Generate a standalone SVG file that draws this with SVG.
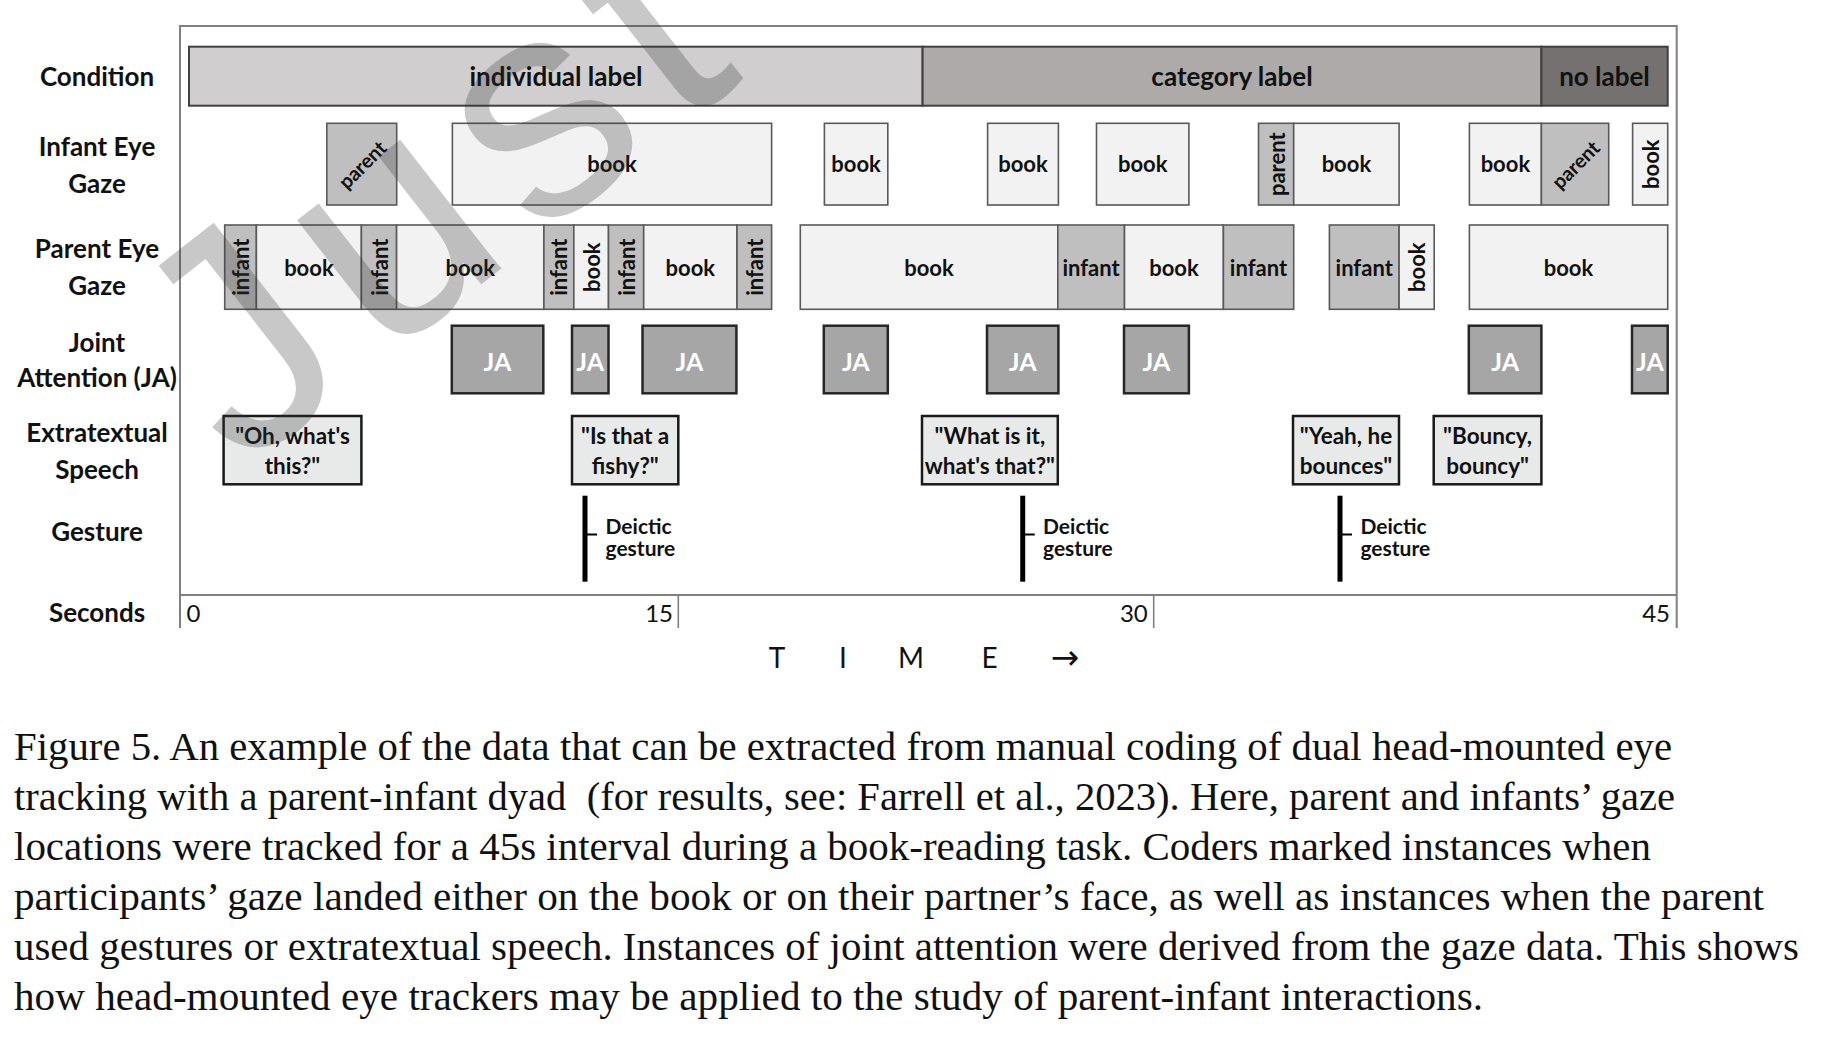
<svg xmlns="http://www.w3.org/2000/svg" width="1834" height="1042" viewBox="0 0 1834 1042">
<style>
  .lbl{font-family:Lato,"Open Sans",sans-serif;font-weight:700;font-size:26px;fill:#111;text-anchor:middle}
  .cond{font-family:Lato,"Open Sans",sans-serif;font-weight:700;font-size:26px;fill:#111;text-anchor:middle}
  .g{font-family:Lato,"Open Sans",sans-serif;font-weight:700;font-size:22px;fill:#111;text-anchor:middle}
  .gr{font-family:Lato,"Open Sans",sans-serif;font-weight:700;font-size:22px;fill:#111;text-anchor:middle;dominant-baseline:central}
  .gs{font-family:Lato,"Open Sans",sans-serif;font-weight:700;font-size:20px;fill:#111;text-anchor:middle;dominant-baseline:central}
  .ja{font-family:Lato,"Open Sans",sans-serif;font-weight:700;font-size:25px;fill:#fff;text-anchor:middle}
  .sp{font-family:Lato,"Open Sans",sans-serif;font-weight:700;font-size:22.5px;fill:#111;text-anchor:middle}
  .dg{font-family:Lato,"Open Sans",sans-serif;font-weight:700;font-size:21px;fill:#111}
  .num{font-family:Lato,"Open Sans",sans-serif;font-weight:400;font-size:24px;fill:#111}
  .time{font-family:Lato,"Open Sans",sans-serif;font-weight:400;font-size:28px;fill:#111;text-anchor:middle}
  .cap{font-family:"Liberation Serif","DejaVu Serif",serif;font-size:40px;fill:#111}
  .book{fill:#f2f2f2;stroke:#595959;stroke-width:1.6}
  .face{fill:#bfbfbf;stroke:#595959;stroke-width:1.6}
  .jab{fill:#a6a6a6;stroke:#262626;stroke-width:2.5}
  .spb{fill:#e8e9e9;stroke:#1a1a1a;stroke-width:2.5}
  .frame{fill:none;stroke:#808080;stroke-width:2}
</style>
<rect width="1834" height="1042" fill="#fff"/>

<g id="frame">
  <path class="frame" d="M180,628 V26 H1676.7 V628"/>
  <path class="frame" d="M180,595 H1676.7"/>
  <path d="M678.3,595 V628 M1153.7,595 V628" stroke="#808080" stroke-width="1.6" fill="none"/>
</g>

<g id="row-labels">
  <text class="lbl" x="97" y="86">Condition</text>
  <text class="lbl" x="97" y="155.7">Infant Eye</text>
  <text class="lbl" x="97" y="192.7">Gaze</text>
  <text class="lbl" x="97" y="258.3">Parent Eye</text>
  <text class="lbl" x="97" y="295">Gaze</text>
  <text class="lbl" x="97" y="351.7">Joint</text>
  <text class="lbl" x="97" y="387.3">Attention (JA)</text>
  <text class="lbl" x="97" y="442.3">Extratextual</text>
  <text class="lbl" x="97" y="479">Speech</text>
  <text class="lbl" x="97" y="540.7">Gesture</text>
  <text class="lbl" x="97" y="621.7">Seconds</text>
</g>

<g id="condition">
  <g id="cond-individual"><rect x="189" y="46.7" width="733.6" height="59" fill="#d0cece" stroke="#404040" stroke-width="2"/><text class="cond" x="556" y="85.7">individual label</text></g>
  <g id="cond-category"><rect x="922.6" y="46.7" width="618.8" height="59" fill="#aeaaaa" stroke="#404040" stroke-width="2"/><text class="cond" x="1232" y="85.7">category label</text></g>
  <g id="cond-none"><rect x="1541.4" y="46.7" width="126.3" height="59" fill="#767171" stroke="#404040" stroke-width="2"/><text class="cond" x="1604.5" y="85.7">no label</text></g>
</g>

<g id="infant-gaze">
  <g id="ig1"><rect class="face" x="326.8" y="123.3" width="69.9" height="81.7"/><text class="gs" transform="translate(361.8,164.2) rotate(-45)">parent</text></g>
  <g id="ig2"><rect class="book" x="452.4" y="123.3" width="319.2" height="81.7"/><text class="g" x="612" y="172.3">book</text></g>
  <g id="ig3"><rect class="book" x="824.4" y="123.3" width="63.4" height="81.7"/><text class="g" x="856.1" y="172.3">book</text></g>
  <g id="ig4"><rect class="book" x="987.6" y="123.3" width="70.8" height="81.7"/><text class="g" x="1023" y="172.3">book</text></g>
  <g id="ig5"><rect class="book" x="1096.5" y="123.3" width="92.4" height="81.7"/><text class="g" x="1142.7" y="172.3">book</text></g>
  <g id="ig6"><rect class="face" x="1258.5" y="123.3" width="35.2" height="81.7"/><text class="gr" transform="translate(1276.1,164.2) rotate(-90)">parent</text></g>
  <g id="ig7"><rect class="book" x="1293.7" y="123.3" width="105.4" height="81.7"/><text class="g" x="1346.4" y="172.3">book</text></g>
  <g id="ig8"><rect class="book" x="1469.4" y="123.3" width="72" height="81.7"/><text class="g" x="1505.4" y="172.3">book</text></g>
  <g id="ig9"><rect class="face" x="1541.4" y="123.3" width="67.3" height="81.7"/><text class="gs" transform="translate(1575,164.2) rotate(-45)">parent</text></g>
  <g id="ig10"><rect class="book" x="1632.6" y="123.3" width="35.1" height="81.7"/><text class="gr" transform="translate(1650.1,164.2) rotate(-90)">book</text></g>
</g>

<g id="parent-gaze">
  <g id="pg1"><rect class="face" x="224.7" y="225" width="31.7" height="84.3"/><text class="gr" transform="translate(240.5,267.2) rotate(-90)">infant</text></g>
  <g id="pg2"><rect class="book" x="256.4" y="225" width="105" height="84.3"/><text class="g" x="308.9" y="275.7">book</text></g>
  <g id="pg3"><rect class="face" x="361.4" y="225" width="35.2" height="84.3"/><text class="gr" transform="translate(379,267.2) rotate(-90)">infant</text></g>
  <g id="pg4"><rect class="book" x="396.6" y="225" width="147.3" height="84.3"/><text class="g" x="470.2" y="275.7">book</text></g>
  <g id="pg5"><rect class="face" x="543.9" y="225" width="29.9" height="84.3"/><text class="gr" transform="translate(558.8,267.2) rotate(-90)">infant</text></g>
  <g id="pg6"><rect class="book" x="573.8" y="225" width="34.7" height="84.3"/><text class="gr" transform="translate(591.1,267.2) rotate(-90)">book</text></g>
  <g id="pg7"><rect class="face" x="608.5" y="225" width="35.2" height="84.3"/><text class="gr" transform="translate(626.1,267.2) rotate(-90)">infant</text></g>
  <g id="pg8"><rect class="book" x="643.7" y="225" width="93.3" height="84.3"/><text class="g" x="690.3" y="275.7">book</text></g>
  <g id="pg9"><rect class="face" x="737" y="225" width="34.6" height="84.3"/><text class="gr" transform="translate(754.3,267.2) rotate(-90)">infant</text></g>
  <g id="pg10"><rect class="book" x="800.3" y="225" width="257.5" height="84.3"/><text class="g" x="929" y="275.7">book</text></g>
  <g id="pg11"><rect class="face" x="1057.8" y="225" width="66.7" height="84.3"/><text class="g" x="1091.1" y="275.7">infant</text></g>
  <g id="pg12"><rect class="book" x="1124.5" y="225" width="98.9" height="84.3"/><text class="g" x="1174" y="275.7">book</text></g>
  <g id="pg13"><rect class="face" x="1223.4" y="225" width="70.3" height="84.3"/><text class="g" x="1258.5" y="275.7">infant</text></g>
  <g id="pg14"><rect class="face" x="1329.4" y="225" width="69.7" height="84.3"/><text class="g" x="1364.2" y="275.7">infant</text></g>
  <g id="pg15"><rect class="book" x="1399.1" y="225" width="35.1" height="84.3"/><text class="gr" transform="translate(1416.6,267.2) rotate(-90)">book</text></g>
  <g id="pg16"><rect class="book" x="1469.4" y="225" width="198.3" height="84.3"/><text class="g" x="1568.5" y="275.7">book</text></g>
</g>

<g id="joint-attention">
  <g id="ja1"><rect class="jab" x="451.8" y="325.7" width="91.5" height="67.6"/><text class="ja" x="497.5" y="371">JA</text></g>
  <g id="ja2"><rect class="jab" x="572" y="325.7" width="36.5" height="67.6"/><text class="ja" x="590.2" y="371">JA</text></g>
  <g id="ja3"><rect class="jab" x="642.5" y="325.7" width="93.9" height="67.6"/><text class="ja" x="689.5" y="371">JA</text></g>
  <g id="ja4"><rect class="jab" x="823.8" y="325.7" width="64" height="67.6"/><text class="ja" x="855.8" y="371">JA</text></g>
  <g id="ja5"><rect class="jab" x="987" y="325.7" width="71.4" height="67.6"/><text class="ja" x="1022.7" y="371">JA</text></g>
  <g id="ja6"><rect class="jab" x="1124" y="325.7" width="64.9" height="67.6"/><text class="ja" x="1156.5" y="371">JA</text></g>
  <g id="ja7"><rect class="jab" x="1468.8" y="325.7" width="72.6" height="67.6"/><text class="ja" x="1505.1" y="371">JA</text></g>
  <g id="ja8"><rect class="jab" x="1632" y="325.7" width="35.7" height="67.6"/><text class="ja" x="1649.9" y="371">JA</text></g>
</g>

<g id="speech">
  <g id="sp1"><rect class="spb" x="223.6" y="416" width="137.8" height="68.3"/><text class="sp" x="292.5" y="443.5">"Oh, what's</text><text class="sp" x="292.5" y="474">this?"</text></g>
  <g id="sp2"><rect class="spb" x="572" y="416" width="106.3" height="68.3"/><text class="sp" x="625.2" y="443.5">"Is that a</text><text class="sp" x="625.2" y="474">fishy?"</text></g>
  <g id="sp3"><rect class="spb" x="922" y="416" width="135.8" height="68.3"/><text class="sp" x="989.9" y="443.5">"What is it,</text><text class="sp" x="989.9" y="474">what's that?"</text></g>
  <g id="sp4"><rect class="spb" x="1293" y="416" width="106" height="68.3"/><text class="sp" x="1346" y="443.5">"Yeah, he</text><text class="sp" x="1346" y="474">bounces"</text></g>
  <g id="sp5"><rect class="spb" x="1433.7" y="416" width="107.7" height="68.3"/><text class="sp" x="1487.6" y="443.5">"Bouncy,</text><text class="sp" x="1487.6" y="474">bouncy"</text></g>
</g>

<g id="gestures">
  <g id="gs1"><path d="M585,495.7 V581.7" stroke="#000" stroke-width="5"/><path d="M585,534.5 H597" stroke="#000" stroke-width="2"/><text class="dg" x="605.5" y="534">Deictic</text><text class="dg" x="605.5" y="555.5">gesture</text></g>
  <g id="gs2"><path d="M1022.7,495.7 V581.7" stroke="#000" stroke-width="5"/><path d="M1022.7,534.5 H1034.7" stroke="#000" stroke-width="2"/><text class="dg" x="1043" y="534">Deictic</text><text class="dg" x="1043" y="555.5">gesture</text></g>
  <g id="gs3"><path d="M1340,495.7 V581.7" stroke="#000" stroke-width="5"/><path d="M1340,534.5 H1352" stroke="#000" stroke-width="2"/><text class="dg" x="1360.4" y="534">Deictic</text><text class="dg" x="1360.4" y="555.5">gesture</text></g>
</g>

<g id="axis-labels">
  <text class="num" x="186.6" y="621.7">0</text>
  <text class="num" x="673" y="621.7" text-anchor="end">15</text>
  <text class="num" x="1147.8" y="621.7" text-anchor="end">30</text>
  <text class="num" x="1670" y="621.7" text-anchor="end">45</text>
  <text class="time" x="777" y="668.3">T</text>
  <text class="time" x="843" y="668.3">I</text>
  <text class="time" x="911" y="668.3">M</text>
  <text class="time" x="989.5" y="668.3">E</text>
  <text class="time" x="1065" y="669" style="font-family:'DejaVu Sans',sans-serif;font-size:34px;font-weight:400">→</text>
</g>

<g id="caption">
  <text class="cap" x="14" y="760" textLength="1658" lengthAdjust="spacingAndGlyphs">Figure 5. An example of the data that can be extracted from manual coding of dual head-mounted eye</text>
  <text class="cap" x="14" y="809.9" textLength="1661" lengthAdjust="spacingAndGlyphs" xml:space="preserve">tracking with a parent-infant dyad  (for results, see: Farrell et al., 2023). Here, parent and infants’ gaze</text>
  <text class="cap" x="14" y="859.8" textLength="1637" lengthAdjust="spacingAndGlyphs">locations were tracked for a 45s interval during a book-reading task. Coders marked instances when</text>
  <text class="cap" x="14" y="909.7" textLength="1750" lengthAdjust="spacingAndGlyphs">participants’ gaze landed either on the book or on their partner’s face, as well as instances when the parent</text>
  <text class="cap" x="14" y="959.6" textLength="1785" lengthAdjust="spacingAndGlyphs">used gestures or extratextual speech. Instances of joint attention were derived from the gaze data. This shows</text>
  <text class="cap" x="14" y="1009.5" textLength="1469" lengthAdjust="spacingAndGlyphs">how head-mounted eye trackers may be applied to the study of parent-infant interactions.</text>
</g>

<g id="watermark">
  <text transform="translate(241,472) rotate(-38)" style="font-family:'Liberation Sans',Arial,sans-serif;font-size:310px;letter-spacing:24px;fill:#333;fill-opacity:0.27">Just</text>
</g>
</svg>
